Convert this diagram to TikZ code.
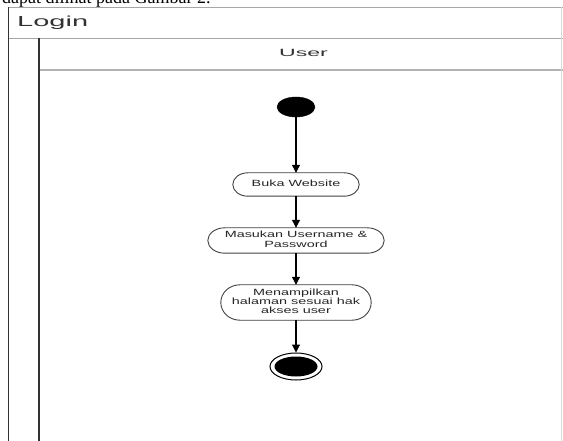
\documentclass[tikz,border=0pt]{standalone}
\usepackage{fontspec}
\setmainfont{Liberation Sans}
\newfontfamily\serifdoc{Liberation Serif}
\usetikzlibrary{shapes.geometric,arrows.meta,calc}
\newcommand\wlbl[1]{\scalebox{1.6}[1]{\begin{tabular}{@{}c@{}}#1\end{tabular}}}
% pill outline with elliptical ends: #1 node name, #2 end depth
\newcommand\pillshape[2]{%
  \draw[actline] ($(#1.north west)+(#2,0)$) -- ($(#1.north east)+(-#2,0)$)
    .. controls ($(#1.north east)+(-0.4477*#2,0)$) and ($(#1.east)!0.5523!(#1.north east)$) .. (#1.east)
    .. controls ($(#1.east)!0.5523!(#1.south east)$) and ($(#1.south east)+(-0.4477*#2,0)$) .. ($(#1.south east)+(-#2,0)$)
    -- ($(#1.south west)+(#2,0)$)
    .. controls ($(#1.south west)+(0.4477*#2,0)$) and ($(#1.west)!0.5523!(#1.south west)$) .. (#1.west)
    .. controls ($(#1.west)!0.5523!(#1.north west)$) and ($(#1.north west)+(0.4477*#2,0)$) .. ($(#1.north west)+(#2,0)$)
    -- cycle;}
\begin{document}
\begin{tikzpicture}[x=1pt,y=-1pt,
  act/.style={rectangle, inner sep=0pt, font=\fontsize{9}{9.3}\selectfont, text=black!85},
  actline/.style={draw=black!75, line width=0.9pt},
  flow/.style={draw=black, line width=1.1pt, -{Triangle[width=8pt,length=8pt]}},
  frameline/.style={draw=black!80, line width=1.4pt},
  hdrline/.style={draw=black!35, line width=1.3pt}]
\useasboundingbox (0,0) rectangle (563,441);
\begin{scope}
  \clip (0,0) rectangle (563,441);
  \node[anchor=base west, font=\serifdoc\fontsize{18}{18}\selectfont, inner sep=0pt] (caption) at (2,4) {dapat dilihat pada Gambar 2.};
\end{scope}
% swimlane frame
\draw[hdrline] (8,7.5) -- (563,7.5);
\draw[hdrline] (8,38.5) -- (563,38.5);
\draw[draw=black!30, line width=2pt] (38,70) -- (563,70);
\draw[draw=black!15, line width=1pt] (561,7) -- (561,441);
\draw[frameline] (8.5,7) -- (8.5,441);
\draw[frameline] (39,38) -- (39,441);
\node[anchor=base west, inner sep=0pt, text=black!80, font=\fontsize{14.5}{15}\selectfont] (login) at (17,27) {\scalebox{2.0}[1]{Login}};
\node[inner sep=0pt, text=black!80, font=\fontsize{10.5}{11}\selectfont] (user) at (303.5,53) {\scalebox{2.2}[1]{User}};
% activity nodes
\node[ellipse, fill=black, draw=black, minimum width=38pt, minimum height=20pt, inner sep=0pt] (start) at (296,107) {};
\node[act, minimum width=126pt, minimum height=23pt] (buka) at (296,184.5) {\wlbl{Buka Website}};
\node[act, minimum width=176pt, minimum height=25pt] (masuk) at (296,240.5) {\wlbl{Masukan Username \&\\Password}};
\node[act, minimum width=150pt, minimum height=35pt] (tampil) at (296,302.5) {\wlbl{Menampilkan\\halaman sesuai hak\\akses user}};
\pillshape{buka}{15}
\pillshape{masuk}{17}
\pillshape{tampil}{19}
\node[ellipse, draw=black, line width=1pt, minimum width=52pt, minimum height=27pt, inner sep=0pt] (end) at (296,366.5) {};
\node[ellipse, fill=black, minimum width=43pt, minimum height=20pt, inner sep=0pt] (endin) at (end.center) {};
% flows
\draw[flow] (start) -- (buka);
\draw[flow] (buka) -- (masuk);
\draw[flow] (masuk) -- (tampil);
\draw[flow] (tampil) -- (end);
\end{tikzpicture}
\end{document}
